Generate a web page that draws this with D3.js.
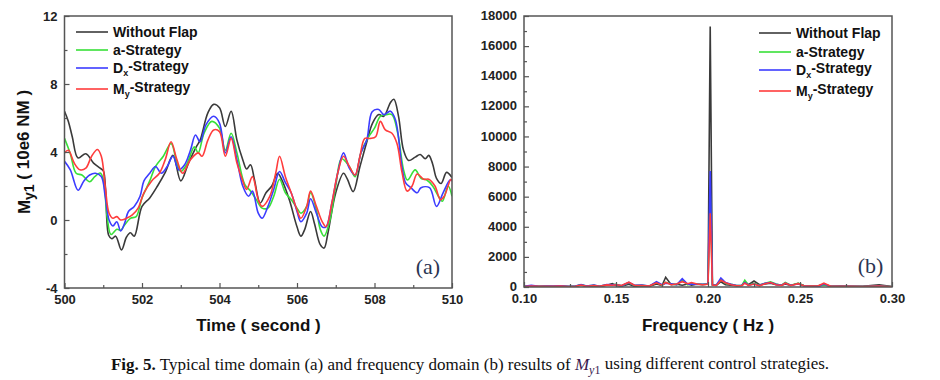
<!DOCTYPE html>
<meta charset="utf-8" />
<style>
  body { margin: 0; background: #fff; }
  svg { display: block; }
  .frame { fill: none; stroke: #555; stroke-width: 1.5px; }
  .tick line { stroke: #555; stroke-width: 1.2px; }
  .tick text { font-family: "Liberation Sans", Arial, sans-serif; font-size: 13px; font-weight: bold; fill: #222; }
  .title { font-family: "Liberation Sans", Arial, sans-serif; font-size: 17px; font-weight: bold; fill: #111; }
  .legend { font-family: "Liberation Sans", Arial, sans-serif; font-size: 14px; font-weight: bold; fill: #111; }
  .tag { font-family: "Liberation Serif", "Times New Roman", serif; font-size: 22px; fill: #2b3552; }
  .caption { font-family: "Liberation Serif", "Times New Roman", serif; font-size: 17px; fill: #111; }
  .line { fill: none; stroke-width: 1.6px; }
</style>
<body>
<script src="https://cdn.jsdelivr.net/npm/d3@7"></script>
<script>

// series names / colours
var names = ["Without Flap", "a-Strategy", "Dx-Strategy", "My-Strategy"];
var colors = ["#3a3a3a", "#38e038", "#3c3cff", "#ff3c3c"];

// (a) time domain, [time, My1]
var black = [[500.0,6.4],[500.1,5.8],[500.2,4.9],[500.35,3.65],[500.55,3.9],[500.75,3.35],[500.92,3.05],[501.0,2.9],[501.06,1.8],[501.14,-0.9],[501.22,-1.1],[501.32,-0.95],[501.47,-1.76],[501.6,-1.0],[501.7,-0.75],[501.8,-0.95],[502.0,0.8],[502.2,1.3],[502.4,2.0],[502.6,2.8],[502.8,3.8],[503.0,2.3],[503.2,3.35],[503.4,4.3],[503.5,4.7],[503.7,6.3],[503.85,6.8],[504.0,6.6],[504.15,5.5],[504.3,6.4],[504.45,4.7],[504.6,3.55],[504.7,3.0],[504.8,3.25],[504.9,2.4],[505.05,1.0],[505.2,1.6],[505.35,2.0],[505.5,2.75],[505.6,2.4],[505.8,1.2],[506.0,-0.4],[506.1,-0.95],[506.2,-0.55],[506.35,0.5],[506.45,-0.2],[506.6,-1.45],[506.7,-1.65],[506.8,-0.75],[507.0,1.6],[507.2,2.75],[507.3,2.4],[507.45,1.67],[507.62,3.1],[507.79,4.5],[507.95,5.7],[508.11,6.2],[508.24,6.1],[508.41,6.9],[508.5,7.1],[508.62,6.1],[508.75,4.1],[508.88,3.5],[509.05,3.7],[509.18,3.85],[509.31,3.6],[509.4,3.8],[509.5,3.3],[509.6,2.45],[509.72,2.15],[509.86,2.8],[510.0,2.5]];
var green = [[500.0,4.8],[500.15,3.9],[500.3,2.75],[500.45,2.65],[500.65,2.25],[500.78,2.55],[500.92,2.76],[501.0,2.4],[501.1,0.2],[501.2,-0.85],[501.35,-0.55],[501.45,-0.6],[501.55,-0.3],[501.7,0.1],[501.85,0.2],[502.0,1.3],[502.2,2.3],[502.35,3.15],[502.55,3.75],[502.75,4.5],[502.9,3.35],[503.0,2.85],[503.15,3.25],[503.35,4.3],[503.45,3.95],[503.6,5.1],[503.8,5.8],[504.0,5.4],[504.15,4.1],[504.3,5.1],[504.45,3.95],[504.65,2.1],[504.8,1.7],[504.95,1.2],[505.1,0.7],[505.25,0.7],[505.4,1.4],[505.55,2.4],[505.7,1.6],[505.85,1.2],[506.0,0.7],[506.1,0.4],[506.25,0.8],[506.35,1.6],[506.5,0.6],[506.6,-0.55],[506.7,-0.95],[506.85,0.0],[507.0,2.0],[507.15,3.6],[507.35,3.15],[507.5,2.55],[507.65,3.95],[507.85,4.9],[508.0,5.4],[508.15,6.1],[508.3,6.2],[508.45,6.2],[508.6,5.1],[508.75,2.95],[508.85,2.35],[509.05,2.95],[509.2,2.45],[509.35,2.35],[509.5,2.0],[509.65,1.4],[509.75,1.1],[509.9,2.0],[510.0,1.4]];
var blue = [[500.0,3.45],[500.15,2.95],[500.35,1.75],[500.5,2.3],[500.65,2.65],[500.8,2.75],[500.95,2.55],[501.05,1.4],[501.15,0.0],[501.25,-0.35],[501.35,-0.1],[501.45,-0.65],[501.55,-0.2],[501.65,0.5],[501.8,0.8],[501.95,1.4],[502.05,2.3],[502.2,2.75],[502.35,3.15],[502.5,2.75],[502.65,3.15],[502.8,3.75],[502.95,2.95],[503.1,3.25],[503.25,4.1],[503.38,5.0],[503.5,4.6],[503.65,5.6],[503.85,6.1],[504.0,5.7],[504.15,3.95],[504.3,4.9],[504.45,3.55],[504.6,2.0],[504.75,1.4],[504.85,1.7],[505.0,0.4],[505.1,0.1],[505.25,0.8],[505.4,1.8],[505.55,2.85],[505.7,2.2],[505.85,1.6],[506.0,0.5],[506.1,-0.1],[506.25,0.4],[506.35,1.25],[506.5,0.4],[506.65,-0.4],[506.75,-0.4],[506.9,1.0],[507.05,2.75],[507.2,3.95],[507.35,3.05],[507.5,2.65],[507.65,3.95],[507.8,4.7],[507.94,6.37],[508.11,6.5],[508.24,6.2],[508.41,6.4],[508.54,5.9],[508.71,3.1],[508.8,2.2],[508.94,1.9],[509.1,1.6],[509.2,1.9],[509.42,1.9],[509.6,0.8],[509.77,1.6],[509.95,2.35],[510.0,2.3]];
var red = [[500.0,3.95],[500.1,4.1],[500.25,3.35],[500.4,2.95],[500.55,3.05],[500.7,3.75],[500.85,4.15],[500.95,3.75],[501.05,2.0],[501.15,0.4],[501.25,0.1],[501.35,0.2],[501.45,0.0],[501.6,0.1],[501.75,0.3],[501.9,0.7],[502.05,1.6],[502.25,2.3],[502.45,2.75],[502.6,3.55],[502.75,4.6],[502.9,3.55],[503.05,2.75],[503.25,3.55],[503.45,3.95],[503.55,3.75],[503.7,4.7],[503.85,5.3],[504.0,5.2],[504.15,3.75],[504.3,4.8],[504.45,3.35],[504.6,2.3],[504.7,1.8],[504.85,2.55],[505.0,1.2],[505.1,0.8],[505.3,1.4],[505.45,2.75],[505.55,3.75],[505.7,2.55],[505.85,1.6],[506.0,0.6],[506.1,0.1],[506.25,0.8],[506.35,1.7],[506.5,0.8],[506.65,-0.1],[506.75,-0.4],[506.9,1.0],[507.05,2.75],[507.2,3.75],[507.35,3.15],[507.5,2.65],[507.62,3.7],[507.75,4.8],[507.9,4.8],[508.03,4.9],[508.15,5.8],[508.28,5.3],[508.45,5.1],[508.58,4.5],[508.71,2.8],[508.84,1.7],[508.97,2.0],[509.1,2.7],[509.27,2.4],[509.4,2.4],[509.56,2.0],[509.7,1.2],[509.8,1.4],[509.97,2.4],[510.0,2.3]];

// (b) frequency domain
var freq = [0.100,0.104,0.108,0.112,0.116,0.120,0.124,0.128,0.131,0.134,0.138,0.141,0.145,0.148,0.150,0.153,0.157,0.160,0.164,0.168,0.172,0.175,0.177,0.180,0.183,0.186,0.189,0.191,0.194,0.197,0.2000,0.2012,0.2024,0.2045,0.2070,0.2095,0.2125,0.2155,0.2185,0.2200,0.2220,0.2250,0.2280,0.2310,0.2340,0.2370,0.2400,0.2420,0.2450,0.2490,0.2520,0.2560,0.2600,0.2630,0.2670,0.2720,0.2780,0.2840,0.2930,0.3000];
var specBlack = [20,60,30,50,30,60,20,40,120,40,90,30,120,220,100,60,180,40,90,40,200,100,650,150,180,120,200,120,180,150,200,17300,150,100,350,150,120,80,100,350,150,400,150,200,250,150,120,200,100,250,100,60,80,150,40,60,50,40,150,30];
var specGreen = [40,80,40,60,50,70,40,60,150,60,120,50,150,150,180,80,280,100,120,60,300,120,300,200,150,450,150,220,200,180,200,6300,150,120,500,250,180,100,120,450,120,250,100,250,350,200,120,300,120,250,100,40,60,150,40,50,40,30,80,20];
var specBlue = [50,120,50,70,60,80,40,70,160,60,130,50,170,150,160,80,300,120,130,60,350,150,250,220,150,550,180,200,180,180,200,7700,150,120,600,300,180,100,120,300,120,200,100,250,300,180,120,250,120,200,80,40,60,200,40,50,40,30,60,20];
var specRed = [30,60,40,50,40,60,30,50,130,50,100,40,140,120,150,100,320,120,100,60,280,120,300,150,200,350,220,300,200,150,180,4900,130,100,450,280,150,80,100,250,100,200,80,220,300,150,100,250,100,220,80,60,80,250,40,50,40,30,60,20];

var timeTicks = [500, 502, 504, 506, 508, 510];
var myTicks = [-4, 0, 4, 8, 12];
var freqTicks = [0.10, 0.15, 0.20, 0.25, 0.30];
var ampTicks = [0, 2000, 4000, 6000, 8000, 10000, 12000, 14000, 16000, 18000];

var plain = function(d) { return String(d); };

var svg = d3.select("body").append("svg")
    .attr("width", 940)
    .attr("height", 380);

// ---------- panel (a) ----------
var xa = d3.scaleLinear().domain([500, 510]).range([64.5, 452]);
var ya = d3.scaleLinear().domain([-4, 12]).range([288, 16]);

svg.append("clipPath").attr("id", "clipA")
  .append("rect").attr("x", 64.5).attr("y", 16).attr("width", 452 - 64.5).attr("height", 272);

var lineA = d3.line()
    .x(function(d) { return xa(d[0]); })
    .y(function(d) { return ya(d[1]); })
    .curve(d3.curveCatmullRom.alpha(0.5));

var gA = svg.append("g").attr("clip-path", "url(#clipA)");
[black, green, blue, red].forEach(function(s, i) {
  gA.append("path")
      .datum(s)
      .attr("class", "line")
      .attr("stroke", colors[i])
      .attr("d", lineA);
});

// minor ticks
svg.append("g").attr("transform", "translate(0,288)")
    .call(d3.axisBottom(xa).tickValues(d3.range(501, 510, 2)).tickSize(-3).tickFormat(""))
    .call(function(g) { g.select(".domain").remove(); });
svg.append("g").attr("transform", "translate(64.5,0)")
    .call(d3.axisLeft(ya).tickValues(d3.range(-2, 12, 4)).tickSize(-3).tickFormat(""))
    .call(function(g) { g.select(".domain").remove(); });
// major ticks
svg.append("g").attr("transform", "translate(0,288)")
    .call(d3.axisBottom(xa).tickValues(timeTicks).tickSize(-5).tickPadding(7).tickFormat(plain))
    .call(function(g) { g.select(".domain").remove(); });
svg.append("g").attr("transform", "translate(64.5,0)")
    .call(d3.axisLeft(ya).tickValues(myTicks).tickSize(-5).tickPadding(7).tickFormat(plain))
    .call(function(g) { g.select(".domain").remove(); });

svg.append("rect").attr("class", "frame")
    .attr("x", 64.5).attr("y", 16).attr("width", 452 - 64.5).attr("height", 272);

// axis titles
svg.append("text").attr("class", "title")
    .attr("x", 258.5).attr("y", 331)
    .attr("text-anchor", "middle")
    .text("Time ( second )");

var yt = svg.append("text").attr("class", "title")
    .attr("transform", "translate(30,152)rotate(-90)")
    .attr("text-anchor", "middle");
yt.append("tspan").text("M");
yt.append("tspan").attr("dy", "0.25em").style("font-size", "14px").text("y1");
yt.append("tspan").attr("dy", "-0.25em").text(" ( 10e6 NM )");

svg.append("text").attr("class", "tag")
    .attr("x", 428).attr("y", 274).attr("text-anchor", "middle").text("(a)");

// legend
function legend(x0, ys) {
  names.forEach(function(n, i) {
    svg.append("line")
        .attr("x1", x0).attr("x2", x0 + 32)
        .attr("y1", ys[i]).attr("y2", ys[i])
        .attr("stroke", colors[i]).attr("stroke-width", 1.6);
    var t = svg.append("text").attr("class", "legend")
        .attr("x", x0 + 37).attr("y", ys[i] + 5);
    if (i < 2) {
      t.text(n);
    } else {
      t.append("tspan").text(n.charAt(0));
      t.append("tspan").attr("dy", "0.35em").style("font-size", "9px").text(n.charAt(1));
      t.append("tspan").attr("dy", "-0.35em").text(n.slice(2));
    }
  });
}
legend(76, [32, 50, 68, 89]);

// ---------- panel (b) ----------
var xb = d3.scaleLinear().domain([0.10, 0.30]).range([524, 892]);
var yb = d3.scaleLinear().domain([0, 18000]).range([287, 16]);

svg.append("clipPath").attr("id", "clipB")
  .append("rect").attr("x", 524).attr("y", 16).attr("width", 892 - 524).attr("height", 271);

var gB = svg.append("g").attr("clip-path", "url(#clipB)");
[specBlack, specGreen, specBlue, specRed].forEach(function(s, i) {
  var lineB = d3.line()
      .x(function(d, j) { return xb(freq[j]); })
      .y(function(d) { return yb(d); });
  gB.append("path")
      .datum(s)
      .attr("class", "line")
      .attr("stroke-width", 1.5)
      .attr("stroke", colors[i])
      .attr("d", lineB);
});

svg.append("g").attr("transform", "translate(0,287)")
    .call(d3.axisBottom(xb).tickValues([0.125, 0.175, 0.225, 0.275]).tickSize(-3).tickFormat(""))
    .call(function(g) { g.select(".domain").remove(); });
svg.append("g").attr("transform", "translate(524,0)")
    .call(d3.axisLeft(yb).tickValues(d3.range(1000, 18000, 2000)).tickSize(-3).tickFormat(""))
    .call(function(g) { g.select(".domain").remove(); });
svg.append("g").attr("transform", "translate(0,287)")
    .call(d3.axisBottom(xb).tickValues(freqTicks).tickSize(-5).tickPadding(7).tickFormat(d3.format(".2f")))
    .call(function(g) { g.select(".domain").remove(); });
svg.append("g").attr("transform", "translate(524,0)")
    .call(d3.axisLeft(yb).tickValues(ampTicks).tickSize(-5).tickPadding(7).tickFormat(plain))
    .call(function(g) { g.select(".domain").remove(); })
    .selectAll(".tick text").attr("dy", "0.28em");

svg.append("rect").attr("class", "frame")
    .attr("x", 524).attr("y", 16).attr("width", 892 - 524).attr("height", 271);

svg.append("text").attr("class", "title")
    .attr("x", 708).attr("y", 331)
    .attr("text-anchor", "middle")
    .text("Frequency ( Hz )");

svg.append("text").attr("class", "tag")
    .attr("x", 870.5).attr("y", 273).attr("text-anchor", "middle").text("(b)");

legend(759, [33, 52, 70, 91]);

// caption
var cap = svg.append("text").attr("class", "caption")
    .attr("x", 470).attr("y", 370).attr("text-anchor", "middle");
cap.append("tspan").style("font-weight", "bold").text("Fig. 5.");
cap.append("tspan").text(" Typical time domain (a) and frequency domain (b) results of ");
cap.append("tspan").style("font-style", "italic").style("fill", "#3a1a4e").text("M");
cap.append("tspan").attr("dy", "0.3em").style("font-size", "12px").style("fill", "#3a1a4e")
   .html("<tspan font-style='italic'>y</tspan>1");
cap.append("tspan").attr("dy", "-0.3em").text(" using different control strategies.");

</script>
</body>
